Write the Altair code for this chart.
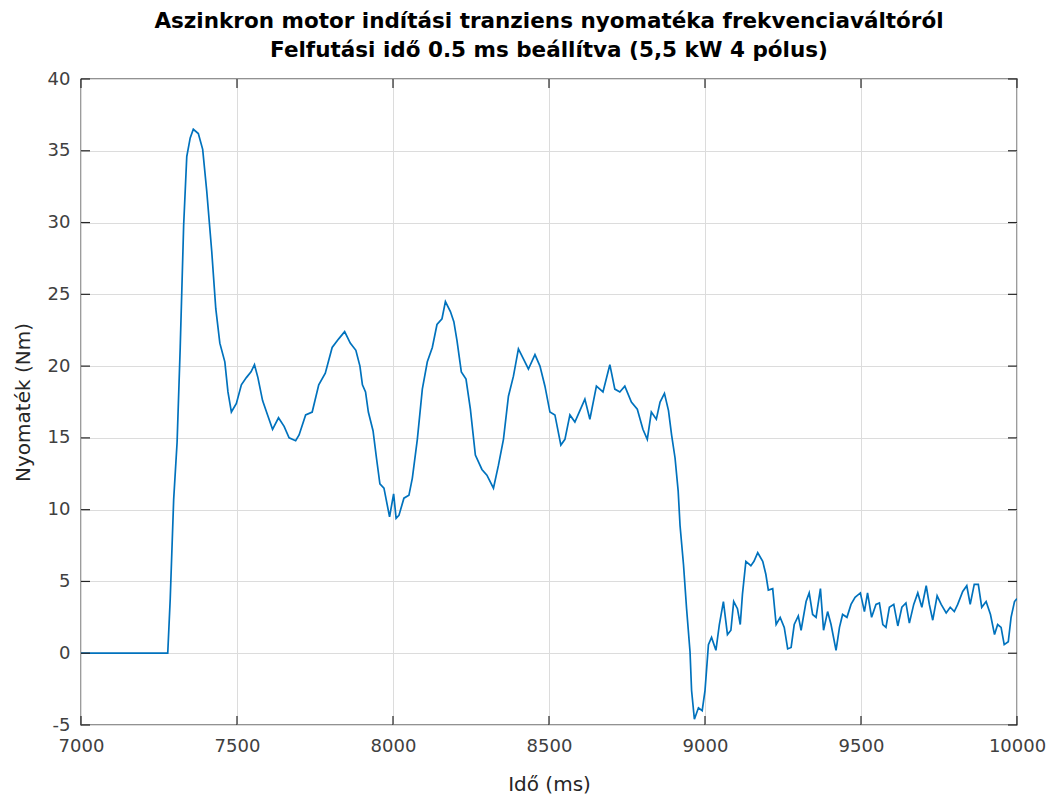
import altair as alt
import pandas as pd

# Time (ms) and torque (Nm)
t_ms = [7000, 7278, 7286, 7297, 7308, 7318, 7329, 7339, 7350, 7360, 7376, 7390, 7403, 7419,
        7432, 7445, 7461, 7471, 7482, 7498, 7514, 7530, 7545, 7556, 7567, 7582, 7598, 7614,
        7633, 7651, 7667, 7688, 7699, 7720, 7741, 7762, 7783, 7805, 7826, 7845, 7863, 7881,
        7894, 7902, 7912, 7921, 7936, 7947, 7958, 7971, 7989, 8002, 8010, 8019, 8035, 8051,
        8062, 8078, 8094, 8110, 8126, 8141, 8157, 8168, 8184, 8195, 8205, 8219, 8234, 8248,
        8264, 8285, 8301, 8322, 8338, 8354, 8370, 8386, 8402, 8418, 8434, 8455, 8471, 8487,
        8503, 8519, 8538, 8551, 8567, 8583, 8599, 8615, 8631, 8652, 8673, 8695, 8711, 8727,
        8743, 8764, 8783, 8801, 8815, 8828, 8844, 8856, 8870, 8883, 8893, 8904, 8914, 8920,
        8931, 8941, 8952, 8957, 8966, 8979, 8991, 9000, 9011, 9021, 9035, 9046, 9059, 9072,
        9083, 9092, 9104, 9113, 9120, 9131, 9147, 9157, 9169, 9185, 9195, 9203, 9217, 9228,
        9241, 9254, 9265, 9276, 9286, 9299, 9308, 9324, 9334, 9345, 9356, 9370, 9380, 9393,
        9404, 9420, 9431, 9441, 9455, 9468, 9481, 9498, 9511, 9521, 9534, 9548, 9559, 9570,
        9580, 9591, 9605, 9618, 9631, 9644, 9655, 9669, 9682, 9695, 9709, 9719, 9730, 9744,
        9757, 9773, 9786, 9799, 9810, 9826, 9839, 9850, 9863, 9876, 9887, 9901, 9915, 9928,
        9938, 9949, 9959, 9972, 9981, 9992, 10000]
torque = [0.0, 0.0, 3.8, 10.7, 14.7, 21.3, 29.8, 34.6, 35.9, 36.5, 36.2, 35.1, 32.2, 28.0,
          24.0, 21.6, 20.3, 18.2, 16.8, 17.4, 18.7, 19.2, 19.6, 20.1, 19.2, 17.6, 16.6, 15.6,
          16.4, 15.8, 15.0, 14.8, 15.2, 16.6, 16.8, 18.7, 19.5, 21.3, 21.9, 22.4, 21.6, 21.1,
          20.0, 18.7, 18.2, 16.8, 15.5, 13.6, 11.8, 11.5, 9.5, 11.1, 9.4, 9.6, 10.8, 11.0,
          12.2, 14.9, 18.4, 20.3, 21.3, 22.9, 23.3, 24.5, 23.8, 23.1, 21.8, 19.6, 19.1, 17.0,
          13.8, 12.8, 12.4, 11.5, 13.1, 14.9, 17.9, 19.3, 21.2, 20.5, 19.8, 20.8, 20.0, 18.6,
          16.8, 16.6, 14.5, 14.9, 16.6, 16.1, 16.9, 17.7, 16.3, 18.6, 18.2, 20.1, 18.4, 18.2,
          18.6, 17.5, 17.0, 15.6, 14.9, 16.8, 16.3, 17.5, 18.1, 16.9, 15.2, 13.6, 11.3, 8.9,
          6.2, 3.1, 0.1, -2.6, -4.6, -3.8, -4.0, -2.6, 0.6, 1.1, 0.2, 2.0, 3.6, 1.3,
          1.6, 3.6, 3.1, 2.0, 4.1, 6.4, 6.1, 6.4, 7.0, 6.4, 5.5, 4.4, 4.5, 2.0,
          2.5, 1.8, 0.3, 0.4, 2.0, 2.6, 1.6, 3.6, 4.2, 2.7, 2.5, 4.5, 1.6, 2.9,
          2.0, 0.2, 1.8, 2.7, 2.5, 3.4, 3.9, 4.2, 2.9, 4.2, 2.5, 3.4, 3.5, 2.0,
          1.8, 3.2, 3.4, 1.9, 3.2, 3.5, 2.1, 3.4, 4.2, 3.2, 4.7, 3.4, 2.3, 4.0,
          3.4, 2.8, 3.2, 2.9, 3.4, 4.3, 4.7, 3.4, 4.8, 4.8, 3.2, 3.6, 2.7, 1.3,
          2.0, 1.8, 0.6, 0.8, 2.5, 3.6, 3.8]

x_ticks = [7000, 7500, 8000, 8500, 9000, 9500, 10000]
y_ticks = [-5, 0, 5, 10, 15, 20, 25, 30, 35, 40]

title_lines = ["Aszinkron motor indítási tranziens nyomatéka frekvenciaváltóról",
               "Felfutási idő 0.5 ms beállítva (5,5 kW 4 pólus)"]
x_title = "Idő (ms)"
y_title = "Nyomaték (Nm)"

W, H = 936, 646
FONT = "DejaVu Sans"

df = pd.DataFrame({"t": t_ms, "v": torque})
xt = pd.DataFrame({"t": x_ticks})
yt = pd.DataFrame({"v": y_ticks})

xscale = alt.Scale(domain=[7000, 10000], nice=False, zero=False)
yscale = alt.Scale(domain=[-5, 40], nice=False, zero=False)

line = alt.Chart(df).mark_line(color="#0072BD", strokeWidth=1.7, clip=True).encode(
    x=alt.X("t:Q", scale=xscale,
            axis=alt.Axis(values=x_ticks, title=x_title, labelExpr="'' + datum.value",
                          labelPadding=12, titlePadding=19, labelFlush=False)),
    y=alt.Y("v:Q", scale=yscale,
            axis=alt.Axis(values=y_ticks, title=y_title, labelExpr="'' + datum.value",
                          labelPadding=11, titlePadding=14, labelFlush=False)),
)

tick_col = "#262626"
tick_len = 9
xt_bottom = alt.Chart(xt).mark_rule(color=tick_col, strokeWidth=1.2).encode(
    x=alt.X("t:Q", scale=xscale), y=alt.value(H), y2=alt.value(H - tick_len))
xt_top = alt.Chart(xt).mark_rule(color=tick_col, strokeWidth=1.2).encode(
    x=alt.X("t:Q", scale=xscale), y=alt.value(0), y2=alt.value(tick_len))
yt_left = alt.Chart(yt).mark_rule(color=tick_col, strokeWidth=1.2).encode(
    y=alt.Y("v:Q", scale=yscale), x=alt.value(0), x2=alt.value(tick_len))
yt_right = alt.Chart(yt).mark_rule(color=tick_col, strokeWidth=1.2).encode(
    y=alt.Y("v:Q", scale=yscale), x=alt.value(W), x2=alt.value(W - tick_len))

chart = alt.layer(line, xt_bottom, xt_top, yt_left, yt_right).properties(
    width=W, height=H,
    title=alt.TitleParams(title_lines, fontSize=21.5, fontWeight="bold", color="black",
                          anchor="middle", offset=9, lineHeight=29, font=FONT),
    autosize=alt.AutoSizeParams(type="none"),
    padding={"left": 81, "top": 79, "right": 40, "bottom": 78},
).configure(font=FONT, background="white").configure_view(
    stroke="#262626", strokeWidth=1.3
).configure_axis(
    grid=True, gridColor="#dcdcdc", gridWidth=1, domain=False, ticks=False,
    labelFontSize=18, labelColor="#404040", labelFont=FONT,
    titleFontSize=20, titleFontWeight="normal", titleColor="#262626", titleFont=FONT,
)

chart.save("out.html", embed_options={"renderer": "svg", "actions": False})
